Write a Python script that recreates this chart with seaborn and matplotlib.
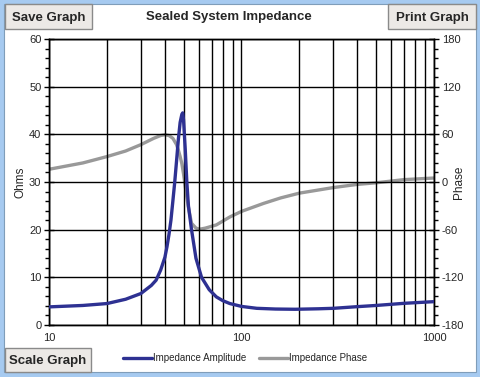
import numpy as np
import pandas as pd
import matplotlib
matplotlib.use("Agg")
import matplotlib.pyplot as plt
from matplotlib.patches import Rectangle
from matplotlib.ticker import AutoMinorLocator, FixedLocator, NullFormatter
import seaborn as sns

sns.set_style("white")
plt.rcParams['font.family'] = ['Liberation Sans', 'DejaVu Sans']
plt.rcParams['axes.unicode_minus'] = False

# values
amp_freq = [10, 15, 20, 25, 30, 34, 36, 38, 40, 41, 42, 43, 44, 45, 46, 47, 48,
            49, 49.5, 50, 51, 52, 53, 55, 58, 62, 68, 74, 80, 87, 100, 120, 150,
            190, 250, 300, 400, 500, 700, 1000]
amp_ohms = [3.8, 4.1, 4.5, 5.4, 6.6, 8.3, 9.4, 11.5, 14.2, 16.4, 19.0, 22.0,
            26.0, 30.0, 34.5, 39.0, 42.5, 44.2, 44.5, 43.0, 37.0, 30.0, 25.0,
            20.0, 14.0, 10.0, 7.4, 5.9, 5.1, 4.5, 3.9, 3.5, 3.35, 3.3, 3.4, 3.5,
            3.85, 4.1, 4.55, 4.9]

ph_freq = [10, 15, 20, 25, 30, 35, 38, 40, 42, 44, 46, 47, 48, 49, 50, 51, 52,
           53, 55, 58, 60.5, 65, 74, 87, 100, 130, 160, 200, 300, 400, 500, 700,
           1000]
ph_deg = [16, 24, 32, 39, 47, 55, 58.5, 59.5, 58.5, 55, 47, 40, 32, 23, 10, -5,
          -19, -32, -52, -58, -59.5, -58, -54, -44, -37, -27, -20, -14, -7, -3,
          -1, 3, 5]

fig = plt.figure(figsize=(4.81, 3.77), dpi=100)
fig.patch.set_facecolor("#a6caf0")
fig.add_artist(Rectangle((4 / 481, 5 / 377), 472 / 481, 368 / 377,
                         transform=fig.transFigure, facecolor="white",
                         edgecolor="#7f9db9", lw=0.8, zorder=0))

ax = fig.add_axes([49 / 481, 52 / 377, 385 / 481, 286 / 377])
amp = pd.DataFrame({"freq": amp_freq, "ohms": amp_ohms})
ph = pd.DataFrame({"freq": ph_freq, "phase": ph_deg})

sns.lineplot(data=amp, x="freq", y="ohms", ax=ax, color="#2e3192", lw=2.4,
             label="Impedance Amplitude", legend=False, zorder=3)
ax2 = ax.twinx()
sns.lineplot(data=ph, x="freq", y="phase", ax=ax2, color="#999999", lw=2.4,
             label="Impedance Phase", legend=False)
ax.set_zorder(ax2.get_zorder() + 1)
ax.patch.set_visible(False)

ax.set_xscale("log")
ax.set_xlim(10, 1000)
ax.set_ylim(0, 60)
ax2.set_ylim(-180, 180)
ax.set_xticks([10, 100, 1000])
ax.set_xticklabels(["10", "100", "1000"])
ax.xaxis.set_minor_locator(FixedLocator([k * d for d in (10, 100) for k in range(2, 10)]))
ax.xaxis.set_minor_formatter(NullFormatter())
ax.set_yticks(range(0, 61, 10))
ax.yaxis.set_minor_locator(AutoMinorLocator(5))
ax2.set_yticks(range(-180, 181, 60))
ax2.yaxis.set_minor_locator(AutoMinorLocator(5))

ax.grid(True, which="both", axis="x", color="black", lw=1)
ax.grid(True, which="major", axis="y", color="black", lw=1)
for a in (ax, ax2):
    for s in a.spines.values():
        s.set_color("black")
        s.set_linewidth(1)
ax.tick_params(axis="both", which="major", direction="inout", length=7,
               width=1, labelsize=8, color="black", pad=2)
ax.tick_params(axis="both", which="minor", direction="out", length=3,
               width=1, color="black")
ax2.tick_params(axis="y", which="major", direction="inout", length=7,
                width=1, labelsize=8, color="black", pad=2)
ax2.tick_params(axis="y", which="minor", direction="out", length=3,
                width=1, color="black")

ax.set_xlabel("")
ax.set_ylabel("Ohms", fontsize=8.5)
ax2.set_ylabel("Phase", fontsize=8.5)
ax.yaxis.set_label_coords(-23 / 385, 0.5)
ax2.yaxis.set_label_coords(1 + 19 / 385, 0.5)

fig.text(229 / 481, 1 - 17 / 377, "Sealed System Impedance", ha="center",
         va="center", fontsize=9.5, fontweight="bold")

# buttons
for (x0, y0, w, h, txt) in [(5, 4, 87, 25, "Save Graph"),
                            (388, 4, 88, 25, "Print Graph"),
                            (5, 348, 86, 24, "Scale Graph")]:
    fig.add_artist(Rectangle((x0 / 481, 1 - (y0 + h) / 377), w / 481, h / 377,
                             transform=fig.transFigure, facecolor="#ece9e6",
                             edgecolor="#8a8a8a", lw=1, zorder=5))
    fig.text((x0 + w / 2) / 481, 1 - (y0 + h / 2 + 1) / 377, txt,
             ha="center", va="center", fontsize=9.5, fontweight="bold", zorder=6)

h1, l1 = ax.get_legend_handles_labels()
h2, l2 = ax2.get_legend_handles_labels()
fig.legend(h1 + h2, l1 + l2, loc="center", bbox_to_anchor=(245 / 481, 1 - 358 / 377),
           ncol=2, frameon=False, fontsize=7, handlelength=3, handletextpad=0.1,
           columnspacing=1.3)

fig.savefig("out.png", dpi=100, facecolor=fig.get_facecolor())
